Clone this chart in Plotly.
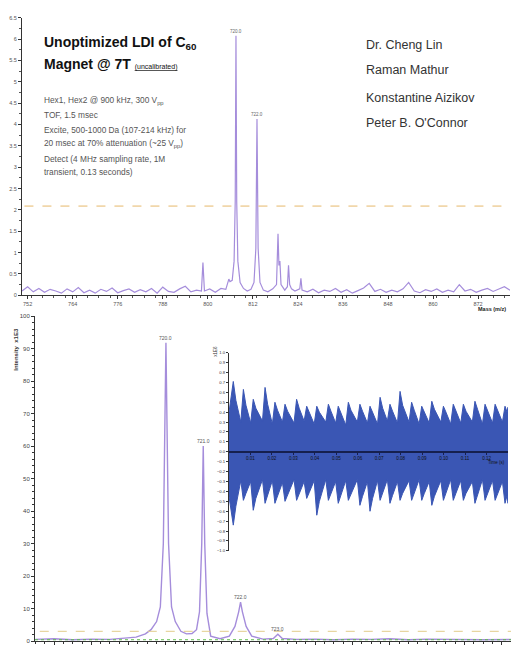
import plotly.graph_objects as go

W, H = 511, 649
def px(x): return x / W
def py(y): return 1 - y / H

# ---------------- top spectrum (uncalibrated LDI, broadband) ----------------
top_mz = [750.5, 752.0, 753.5, 755.0, 756.5, 758.0, 759.5, 761.0, 762.5, 764.0,
          765.5, 767.0, 768.5, 770.0, 771.5, 773.0, 774.5, 776.0, 777.5, 779.0,
          780.5, 782.0, 783.5, 785.0, 786.5, 788.0, 789.5, 791.0, 792.5, 794.0,
          795.5, 797.0, 798.3, 798.7, 799.1, 800.5, 802.0, 803.5, 804.8, 805.3,
          805.6, 805.9, 806.5, 807.0, 807.3, 807.5, 807.7, 808.0, 808.6, 809.5,
          810.5, 811.5, 812.3, 812.8, 813.1, 813.4, 813.9, 814.8, 816.0, 817.3,
          818.3, 818.7, 818.95, 819.2, 819.5, 820.5, 821.2, 821.5, 821.8, 822.3,
          823.2, 824.5, 824.8, 825.1, 826.5, 828.0, 829.5, 831.0, 832.5, 834.0,
          835.5, 837.0, 838.5, 840.0, 841.5, 843.0, 844.5, 846.0, 847.5, 849.0,
          850.5, 852.0, 853.5, 855.0, 856.5, 858.0, 859.5, 861.0, 862.5, 864.0,
          865.5, 867.0, 868.5, 870.0, 871.5, 873.0, 874.5, 876.0, 877.5, 879.0,
          880.5]
top_int = [0.10, 0.20, 0.08, 0.16, 0.07, 0.14, 0.10, 0.05, 0.15, 0.08,
           0.18, 0.06, 0.12, 0.05, 0.14, 0.09, 0.17, 0.06, 0.11, 0.15,
           0.07, 0.13, 0.08, 0.16, 0.05, 0.19, 0.09, 0.07, 0.15, 0.21,
           0.08, 0.12, 0.10, 0.77, 0.10, 0.15, 0.07, 0.16, 0.14, 0.30,
           0.38, 0.32, 0.35, 0.80, 2.20, 6.08, 2.20, 0.80, 0.30, 0.16,
           0.10, 0.14, 0.30, 1.10, 4.13, 1.10, 0.30, 0.12, 0.08, 0.15,
           0.25, 1.44, 0.70, 0.80, 0.25, 0.12, 0.20, 0.70, 0.25, 0.15,
           0.10, 0.15, 0.40, 0.12, 0.08, 0.14, 0.06, 0.12, 0.09, 0.16,
           0.07, 0.13, 0.05, 0.11, 0.17, 0.28, 0.09, 0.14, 0.07, 0.12,
           0.08, 0.15, 0.30, 0.10, 0.06, 0.13, 0.09, 0.15, 0.07, 0.12,
           0.08, 0.25, 0.10, 0.14, 0.07, 0.12, 0.16, 0.09, 0.14, 0.20,
           0.12]
top_peak_mz = [807.5, 813.1]
top_peak_h = [6.08, 4.13]
top_peak_labels = ["720.0", "722.0"]
top_threshold = 2.09
top_xticks = [752, 764, 776, 788, 800, 812, 824, 836, 848, 860, 872]
top_yticks = [0, 0.5, 1, 1.5, 2, 2.5, 3, 3.5, 4, 4.5, 5, 5.5, 6, 6.5]

# ---------------- bottom spectrum (C60 isotope cluster) ----------------
bot_mz = [716.5, 717.0, 717.5, 718.0, 718.5, 718.9, 719.2, 719.45, 719.6, 719.75,
          719.85, 719.93, 720.0, 720.07, 720.15, 720.25, 720.4, 720.55, 720.7, 720.82,
          720.9, 720.96, 721.0, 721.04, 721.1, 721.2, 721.45, 721.7, 721.85, 721.95,
          722.0, 722.05, 722.15, 722.3, 722.6, 722.88, 723.0, 723.12, 723.5, 724.0,
          724.5, 725.0, 725.5, 726.0, 726.5, 727.0, 727.5, 728.0, 728.5, 729.25]
bot_int = [0.5, 0.7, 0.4, 0.6, 0.5, 0.8, 1.2, 2.2, 3.5, 6.0,
           10.5, 30.0, 91.8, 30.0, 10.5, 6.0, 3.0, 2.2, 2.3, 3.5,
           9.0, 30.0, 60.0, 30.0, 8.5, 1.5, 0.7, 1.5, 4.5, 9.0,
           12.0, 9.0, 4.5, 1.5, 0.6, 0.8, 2.1, 0.8, 0.5, 0.6,
           0.4, 0.6, 0.5, 0.7, 0.4, 0.6, 0.5, 0.6, 0.4, 0.5]
bot_peak_mz = [720.0, 721.0, 722.0, 723.0]
bot_peak_h = [91.8, 60.0, 12.0, 2.1]
bot_peak_labels = ["720.0", "721.0", "722.0", "723.0"]
bot_threshold = 3.0
bot_yticks = [0, 10, 20, 30, 40, 50, 60, 70, 80, 90, 100]

# ---------------- inset transient (beat envelope) ----------------
beat_t = [0.0020, 0.0067, 0.0113, 0.0168, 0.0214, 0.0261, 0.0315, 0.0362, 0.0409,
          0.0463, 0.0509, 0.0556, 0.0610, 0.0657, 0.0704, 0.0750, 0.0797, 0.0851,
          0.0898, 0.0945, 0.0999, 0.1045, 0.1092, 0.1146, 0.1193, 0.1240, 0.1286]
beat_up = [0.71, 0.63, 0.53, 0.65, 0.50, 0.48, 0.53, 0.46, 0.46, 0.48, 0.46, 0.50,
           0.48, 0.46, 0.55, 0.48, 0.61, 0.50, 0.46, 0.51, 0.46, 0.48, 0.48, 0.51,
           0.48, 0.48, 0.46]
beat_lo = [-0.74, -0.49, -0.59, -0.52, -0.52, -0.50, -0.49, -0.47, -0.64, -0.49,
           -0.52, -0.49, -0.54, -0.60, -0.49, -0.52, -0.49, -0.49, -0.49, -0.54,
           -0.49, -0.49, -0.49, -0.52, -0.49, -0.49, -0.52]
shoulder_t = [0.0032, 0.0079, 0.0125, 0.0180, 0.0226, 0.0273, 0.0327, 0.0374, 0.0421,
              0.0475, 0.0521, 0.0568, 0.0622, 0.0669, 0.0716, 0.0762, 0.0809, 0.0863,
              0.0910, 0.0957, 0.1011, 0.1057, 0.1104, 0.1158, 0.1205, 0.1252, 0.1296]
shoulder_up = [0.52, 0.47, 0.44, 0.48, 0.42, 0.41, 0.44, 0.40, 0.40, 0.41, 0.40, 0.42,
               0.41, 0.40, 0.44, 0.41, 0.47, 0.42, 0.40, 0.43, 0.40, 0.41, 0.41, 0.43,
               0.41, 0.41, 0.40]
shoulder_lo = [-0.55, -0.42, -0.47, -0.44, -0.44, -0.43, -0.42, -0.41, -0.50, -0.42,
               -0.44, -0.42, -0.45, -0.47, -0.42, -0.44, -0.42, -0.42, -0.42, -0.45,
               -0.42, -0.42, -0.42, -0.44, -0.42, -0.42, -0.44]
valley_t = [0.0055, 0.0101, 0.0156, 0.0202, 0.0249, 0.0303, 0.0350, 0.0397, 0.0451,
            0.0497, 0.0544, 0.0598, 0.0645, 0.0692, 0.0738, 0.0785, 0.0839, 0.0886,
            0.0933, 0.0987, 0.1033, 0.1080, 0.1134, 0.1181, 0.1228, 0.1274]
valley_up = [0.30, 0.29, 0.31, 0.28, 0.30, 0.29, 0.31, 0.28, 0.30, 0.29, 0.27, 0.30,
             0.29, 0.28, 0.31, 0.29, 0.30, 0.28, 0.29, 0.30, 0.28, 0.29, 0.30, 0.28,
             0.29, 0.30]
valley_lo = [-0.29, -0.30, -0.28, -0.29, -0.31, -0.28, -0.30, -0.29, -0.28, -0.30,
             -0.29, -0.28, -0.30, -0.29, -0.28, -0.30, -0.29, -0.28, -0.30, -0.29,
             -0.28, -0.29, -0.30, -0.28, -0.29, -0.30]
trans_start = (0.0, 0.40, -0.45)
trans_end = (0.13, 0.45, -0.52)
inset_xticks = [0.01, 0.02, 0.03, 0.04, 0.05, 0.06, 0.07, 0.08, 0.09, 0.10, 0.11, 0.12]

# ---------------- texts ----------------
authors = ["Dr. Cheng Lin", "Raman Mathur", "Konstantine Aizikov", "Peter B. O'Connor"]
conditions = ["Hex1, Hex2 @ 900 kHz, 300 V<sub>pp</sub>",
              "TOF, 1.5 msec",
              "Excite, 500-1000 Da (107-214 kHz) for",
              "20 msec at 70% attenuation (~25 V<sub>pp</sub>)",
              "Detect (4 MHz sampling rate, 1M",
              "transient, 0.13 seconds)"]

LAV = '#a58ddb'
FONT = 'Liberation Sans, Arial, sans-serif'

fig = go.Figure()

# top spectrum
fig.add_trace(go.Scatter(x=top_mz, y=top_int, mode='lines', xaxis='x', yaxis='y',
                         line=dict(color=LAV, width=1.2), hoverinfo='skip'))
# bottom spectrum
fig.add_trace(go.Scatter(x=bot_mz, y=bot_int, mode='lines', xaxis='x2', yaxis='y2',
                         line=dict(color=LAV, width=1.4), hoverinfo='skip'))

# inset transient envelope polygon
up_t, up_v, lo_v = [trans_start[0]], [trans_start[1]], [trans_start[2]]
for i, t in enumerate(beat_t):
    up_t.append(t); up_v.append(beat_up[i]); lo_v.append(beat_lo[i])
    up_t.append(shoulder_t[i]); up_v.append(shoulder_up[i]); lo_v.append(shoulder_lo[i])
    if i < len(valley_t):
        up_t.append(valley_t[i]); up_v.append(valley_up[i]); lo_v.append(valley_lo[i])
up_t.append(trans_end[0]); up_v.append(trans_end[1]); lo_v.append(trans_end[2])
poly_x = up_t + up_t[::-1]
poly_y = up_v + lo_v[::-1]
fig.add_trace(go.Scatter(x=poly_x, y=poly_y, mode='lines', fill='toself',
                         fillcolor='#3a56b4', line=dict(color='#3a56b4', width=1),
                         xaxis='x3', yaxis='y3', hoverinfo='skip'))

axis_common = dict(showgrid=False, zeroline=False, showline=True, linewidth=1,
                   ticks='outside', ticklen=3, tickwidth=1, tickcolor='#333',
                   linecolor='#333', fixedrange=True)

fig.update_layout(
    width=W, height=H, margin=dict(l=0, r=0, t=0, b=0),
    paper_bgcolor='white', plot_bgcolor='rgba(0,0,0,0)', showlegend=False,
    font=dict(family=FONT, color='#444'),
    xaxis=dict(domain=[px(22), px(510)], range=[750.5, 880.5], anchor='y',
               tickvals=top_xticks, ticktext=[str(v) for v in top_xticks],
               tickfont=dict(size=5.5, color='#555'),
               minor=dict(ticks='outside', ticklen=2, dtick=3, tickcolor='#555'),
               **axis_common),
    yaxis=dict(domain=[py(295), py(15)], range=[0, 6.5], anchor='x',
               tickvals=top_yticks, ticktext=[('%g' % v) for v in top_yticks],
               tickfont=dict(size=5.5, color='#555'),
               minor=dict(ticks='outside', ticklen=2, dtick=0.25, tickcolor='#555'),
               **axis_common),
    xaxis2=dict(domain=[px(35), 1.0], range=[716.49, 729.25], anchor='y2',
                showticklabels=False, dtick=1,
                minor=dict(ticks='outside', ticklen=2, dtick=0.25, tickcolor='#333'),
                **axis_common),
    yaxis2=dict(domain=[py(644), py(316)], range=[0, 100], anchor='x2',
                tickvals=bot_yticks, ticktext=[str(v) for v in bot_yticks],
                tickfont=dict(size=6, color='#444'),
                minor=dict(ticks='outside', ticklen=2, dtick=2, tickcolor='#333'),
                **axis_common),
    xaxis3=dict(domain=[px(229), px(508)], range=[0, 0.13], anchor='free',
                position=py(453), showgrid=False, zeroline=False, showline=True,
                linecolor='#16204f', linewidth=1.5, ticks='outside', ticklen=2,
                tickcolor='#16204f', tickvals=inset_xticks,
                ticktext=['%.2f' % v for v in inset_xticks],
                tickfont=dict(size=4.5, color='#111'), fixedrange=True,
                layer='above traces'),
    yaxis3=dict(domain=[py(553), py(353)], range=[-1.0, 1.0], anchor='x3',
                showgrid=False, zeroline=False, showline=True, linecolor='#333',
                linewidth=1, ticks='outside', ticklen=2, tickcolor='#333',
                dtick=0.1, tickformat='.1f', tickfont=dict(size=4.2, color='#333'),
                fixedrange=True),
)

# threshold lines
fig.add_shape(type='line', xref='x domain', yref='y', x0=0.005, x1=1.0,
              y0=top_threshold, y1=top_threshold,
              line=dict(color='#e6b86a', width=1, dash='dash'))
fig.add_shape(type='line', xref='x2 domain', yref='y2', x0=0.01, x1=1.0,
              y0=bot_threshold, y1=bot_threshold,
              line=dict(color='#e2cc8a', width=1, dash='dash'))
fig.add_shape(type='line', xref='x2 domain', yref='y2', x0=0.0, x1=1.0,
              y0=0.4, y1=0.4, line=dict(color='#5dbb4d', width=1, dash='dot'))

ann = []
# peak labels
for m, h, lab in zip(top_peak_mz, top_peak_h, top_peak_labels):
    ann.append(dict(x=m, y=h, xref='x', yref='y', text=lab, showarrow=False,
                    yanchor='bottom', font=dict(size=4.5, color='#666')))
for m, h, lab in zip(bot_peak_mz, bot_peak_h, bot_peak_labels):
    ann.append(dict(x=m, y=h, xref='x2', yref='y2', text=lab, showarrow=False,
                    yanchor='bottom', font=dict(size=5, color='#555')))

# title and conditions
ann.append(dict(x=px(42), y=py(40), xref='paper', yref='paper', xanchor='left',
                yanchor='middle', showarrow=False,
                text='<b>Unoptimized LDI of C<sub>60</sub></b>',
                font=dict(size=14, color='#111')))
ann.append(dict(x=px(42), y=py(62), xref='paper', yref='paper', xanchor='left',
                yanchor='middle', showarrow=False,
                text='<b>Magnet @ 7T</b> <span style="font-size:7px"><u>(uncalibrated)</u></span>',
                font=dict(size=14, color='#111')))
cond_y = [98, 113, 128, 142, 157, 171]
for t, yy in zip(conditions, cond_y):
    ann.append(dict(x=px(42), y=py(yy), xref='paper', yref='paper', xanchor='left',
                    yanchor='middle', showarrow=False, text=t,
                    font=dict(size=8.3, color='#555')))
auth_y = [42, 68, 96, 121]
for t, yy in zip(authors, auth_y):
    ann.append(dict(x=px(364), y=py(yy), xref='paper', yref='paper', xanchor='left',
                    yanchor='middle', showarrow=False, text=t,
                    font=dict(size=12.5, color='#333')))

# axis titles
ann.append(dict(x=px(508), y=py(309), xref='paper', yref='paper', xanchor='right',
                yanchor='middle', showarrow=False, text='<b>Mass (m/z)</b>',
                font=dict(size=5.5, color='#222')))
ann.append(dict(x=px(16), y=py(350), xref='paper', yref='paper', xanchor='center',
                yanchor='middle', showarrow=False, textangle=-90,
                text='<b>Intensity  x1E3</b>', font=dict(size=6, color='#333')))
ann.append(dict(x=px(507), y=py(464), xref='paper', yref='paper', xanchor='right',
                yanchor='middle', showarrow=False, text='Time (s)',
                font=dict(size=4.5, color='#111')))
ann.append(dict(x=px(216), y=py(352), xref='paper', yref='paper', xanchor='center',
                yanchor='middle', showarrow=False, textangle=-90,
                text='x1E6', font=dict(size=4.5, color='#333')))

fig.update_layout(annotations=ann)
fig.write_html("out.html", config={'displayModeBar': False},
               post_script="document.body.style.margin='0';document.body.style.overflow='hidden';")
